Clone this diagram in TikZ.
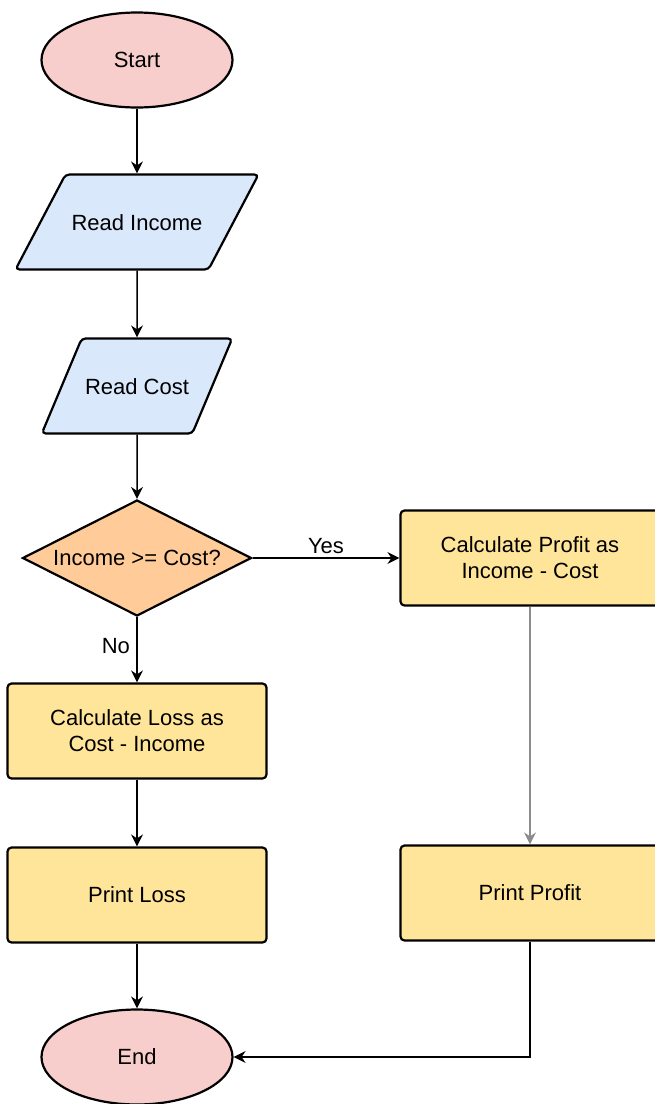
\documentclass[tikz,border=0pt]{standalone}
\usepackage{fontspec}
\setmainfont{Liberation Sans}
\usepackage{tikz}
\usetikzlibrary{shapes.geometric,arrows.meta,positioning}
\definecolor{termred}{HTML}{F8CECC}
\definecolor{iobl}{HTML}{DAE8FC}
\definecolor{decor}{HTML}{FFCC99}
\definecolor{procyel}{HTML}{FFE599}
\tikzstyle{term}=[draw,ellipse,line width=2.2pt,fill=termred,minimum
width=191pt,minimum height=95pt]
\tikzstyle{io}=[draw,trapezium,trapezium stretches body=true,line width=2.2pt,
  fill=iobl,rounded corners=4pt,text height=18pt,text depth=1pt,
  inner ysep=37.5pt,minimum height=95pt]
\tikzstyle{dec}=[draw,diamond,aspect=1.97,line width=2.2pt,fill=decor,minimum
width=229pt,minimum height=116pt,inner sep=0pt]
\tikzstyle{proc}=[draw,rectangle,line width=2.2pt,fill=procyel,rounded
  corners=4pt,minimum width=259pt,minimum height=95pt,align=center]

\begin{document}
\begin{tikzpicture}[x=1pt, y=1pt, >={Stealth[length=12pt,width=12pt,inset=4pt]},
  on grid, node distance=163pt, font=\fontsize{22}{26}\selectfont,
  line width=1.5pt]
  \useasboundingbox (0,0) rectangle (655,-1104);

  \node[term] (start) at (137,-60) {Start};
  \node[io, trapezium left angle=62, trapezium right angle=118,
    minimum width=243pt, below=162pt of start] (inc) {Read Income};
  \node[io, trapezium left angle=67, trapezium right angle=113,
    minimum width=187pt, below=164pt of inc] (cost) {Read Cost};
  \node[dec, below=172pt of cost] (cmp) {Income >= Cost?};
  \node[proc, below=173pt of cmp] (loss) {Calculate Loss as\\Cost - Income};
  \node[proc, below=164pt of loss] (ploss) {Print Loss};
  \node[term, below=162pt of ploss] (stop) {End};
  \node[proc, right=393pt of cmp] (profit) {Calculate Profit as\\Income - Cost};
  \node[proc, below=335pt of profit] (pprofit) {Print Profit};

  \draw[->] (start) -- (inc);
  \draw[->] (inc) -- (cost);
  \draw[->] (cost) -- (cmp);
  \draw[->] (cmp) -- node[above] {Yes} (profit);
  \draw[->] (cmp) -- node[left=3pt, pos=.45] {No} (loss);
  \draw[->] (loss) -- (ploss);
  \draw[->] (ploss) -- (stop);
  \draw[->, draw=black!45] (profit) -- (pprofit);
  \draw[->] (pprofit) |- (stop);
\end{tikzpicture}
\end{document}
